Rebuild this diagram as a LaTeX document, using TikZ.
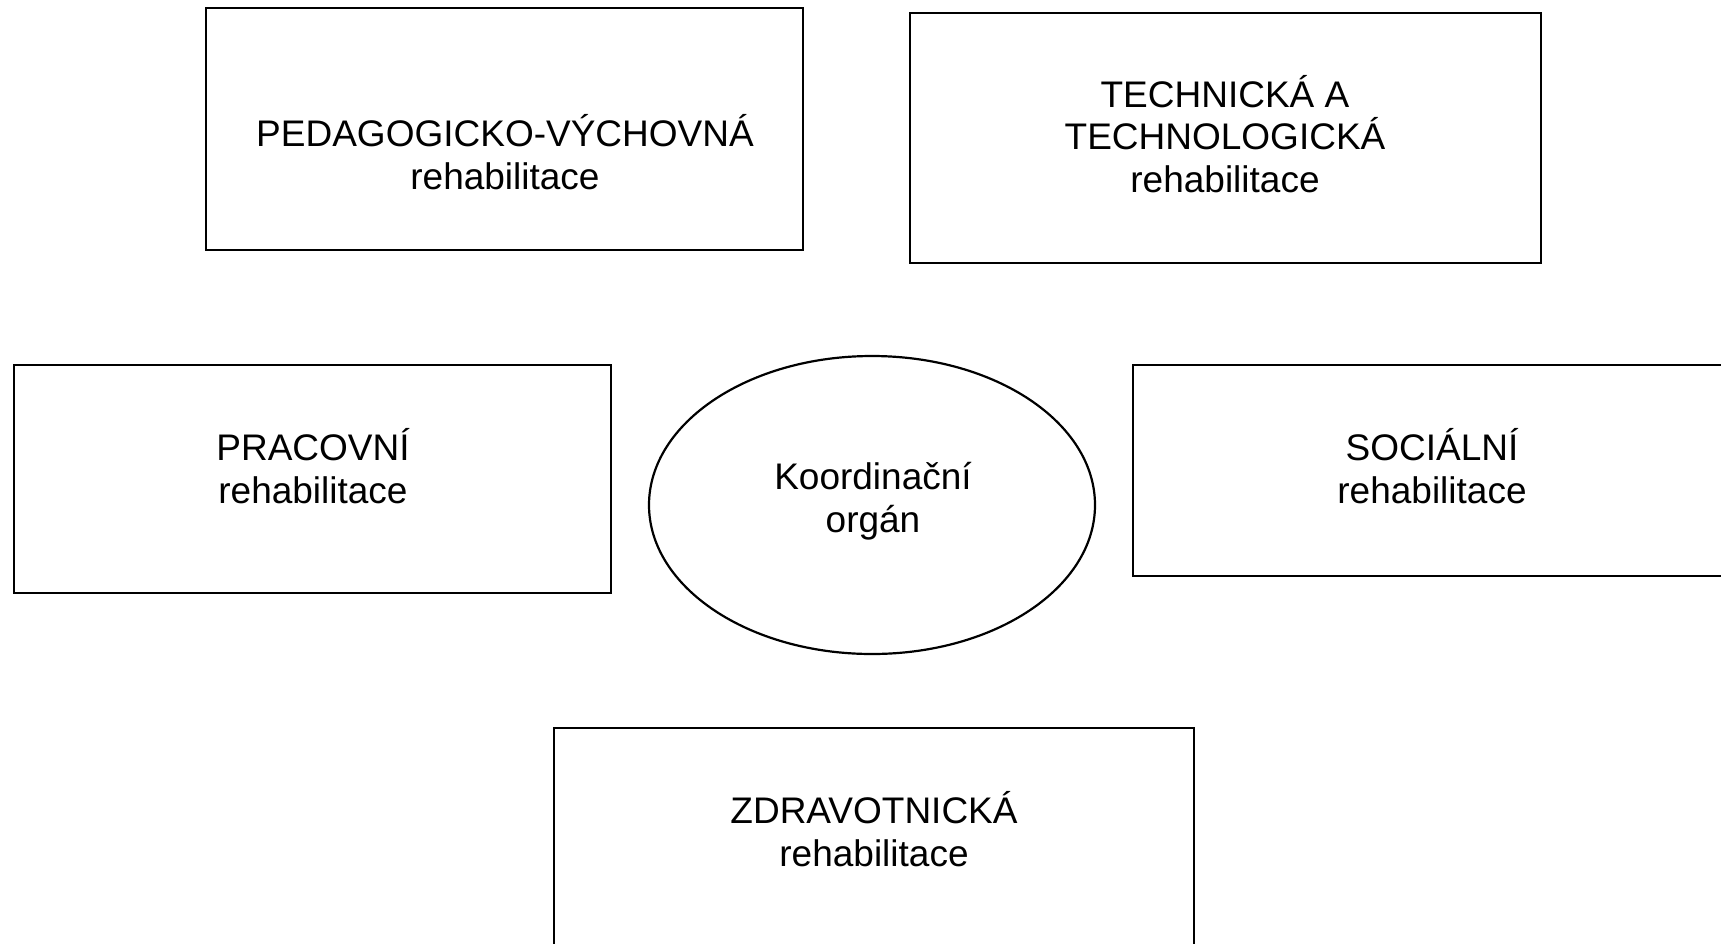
\documentclass[tikz,border=0pt]{standalone}
\usepackage{fontspec}
\setmainfont{Liberation Sans}
\usetikzlibrary{shapes.geometric}
\begin{document}
\begin{tikzpicture}[x=1pt,y=-1pt,
  boxshape/.style={draw=black, line width=2.6pt, rectangle, inner sep=0pt, fill=white},
  ovalshape/.style={draw=black, line width=2.2pt, ellipse, inner sep=0pt},
  label/.style={align=center, inner sep=0pt, text height=26.6pt, text depth=0pt,
    font=\fontsize{37}{42.5}\selectfont}]
\useasboundingbox (0,0) rectangle (1721,943);
\clip (0,0) rectangle (1721,943);
\fill[white] (0,0) rectangle (1721,943);

\node[boxshape, minimum width=597pt, minimum height=242pt] (ped) at (504.5,129) {};
\node[boxshape, minimum width=631pt, minimum height=250pt] (tech) at (1225.5,138) {};
\node[boxshape, minimum width=597pt, minimum height=228pt] (prac) at (312.5,479) {};
\node[boxshape, minimum width=640pt, minimum height=211pt] (soc) at (1453,470.5) {};
\node[boxshape, minimum width=640pt, minimum height=232pt] (zdr) at (874,844) {};
\node[ovalshape, minimum width=446pt, minimum height=298pt] (koord) at (872,505) {};

\node[label] (pedt) at (505,176) {PEDAGOGICKO-VÝCHOVNÁ\\rehabilitace};
\node[label] (techt) at (1225,179) {TECHNICKÁ A\\TECHNOLOGICKÁ\\rehabilitace};
\node[label] (pract) at (313,490) {PRACOVNÍ\\rehabilitace};
\node[label] (koordt) at (873,519) {Koordinační\\orgán};
\node[label] (soct) at (1432,490) {SOCIÁLNÍ\\rehabilitace};
\node[label] (zdrt) at (874,853) {ZDRAVOTNICKÁ\\rehabilitace};
\end{tikzpicture}
\end{document}
